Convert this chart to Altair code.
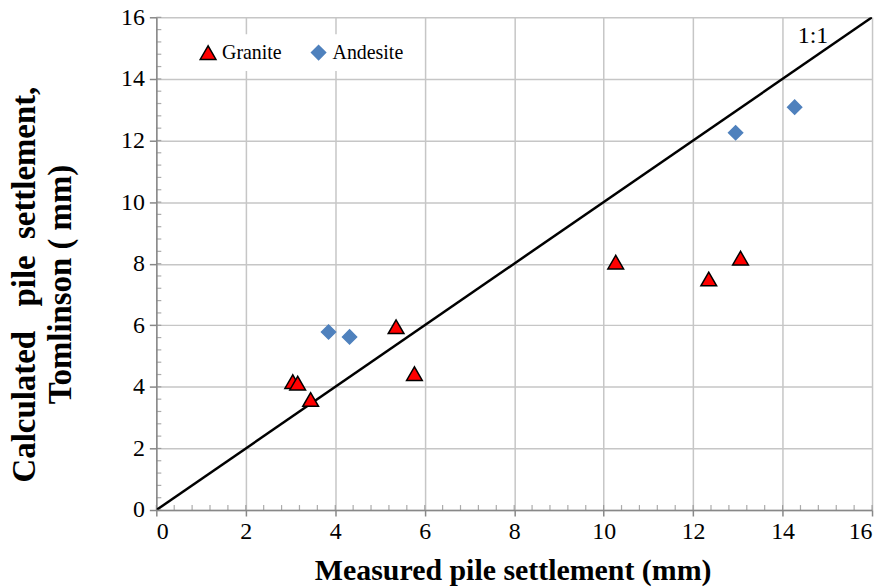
import altair as alt
import pandas as pd

granite_x = [3.05, 3.16, 3.45, 5.36, 5.77, 10.27, 12.35, 13.06]
granite_y = [4.17, 4.12, 3.59, 5.95, 4.43, 8.05, 7.50, 8.18]
andesite_x = [3.85, 4.32, 12.95, 14.27]
andesite_y = [5.78, 5.62, 12.25, 13.08]
line_x = [0, 16]
line_y = [0, 16]
label_text = ["1:1"]
label_x = [14.68]
label_y = [15.4]
major_ticks = [0, 2, 4, 6, 8, 10, 12, 14, 16]
minor_ticks = [round(i * 0.4, 1) for i in range(41)]

FONT = "Liberation Serif"
AXIS_GREY = "#888888"
NB = "\u00a0"
y_title_1 = "Calculated" + NB * 3 + "pile" + NB * 2 + "settlement," + NB * 3
y_title_2 = "Tomlinson ( mm)"

pts = pd.DataFrame({
    "x": granite_x + andesite_x,
    "y": granite_y + andesite_y,
    "rock": ["Granite"] * len(granite_x) + ["Andesite"] * len(andesite_x),
})
line_df = pd.DataFrame({"x": line_x, "y": line_y})
lab_df = pd.DataFrame({"x": label_x, "y": label_y, "t": label_text})
minor_x_df = pd.DataFrame({"x": minor_ticks, "y": [0] * len(minor_ticks)})
minor_y_df = pd.DataFrame({"x": [0] * len(minor_ticks), "y": minor_ticks})

xscale = alt.Scale(domain=[0, 16], nice=False, zero=False)
yscale = alt.Scale(domain=[0, 16], nice=False, zero=False)

xaxis = alt.Axis(orient="bottom", values=major_ticks, grid=True, gridColor="#c6c6c6", gridWidth=1.5,
                 domainColor=AXIS_GREY, domainWidth=1.5, tickColor=AXIS_GREY, tickSize=6, tickWidth=1.5,
                 labelFont=FONT, labelFontSize=24, labelColor="black", labelPadding=4,
                 title="Measured pile settlement (mm)", titleFont=FONT, titleFontSize=30,
                 titleFontWeight="bold", titleColor="black", titleY=70, titleX=358,
                 titleBaseline="alphabetic")
yaxis = alt.Axis(orient="left", values=major_ticks, grid=True, gridColor="#c6c6c6", gridWidth=1.5,
                 domainColor=AXIS_GREY, domainWidth=1.5, tickColor=AXIS_GREY, tickSize=7, tickWidth=1.5,
                 labelFont=FONT, labelFontSize=24, labelColor="black", labelPadding=5,
                 title=[y_title_1, y_title_2], titleFont=FONT,
                 titleFontSize=33, titleFontWeight="bold", titleColor="black",
                 titleX=-122, titleY=268, titleBaseline="alphabetic", titleLineHeight=36,
                 titleAngle=270)

base_line = alt.Chart(line_df).mark_line(color="black", strokeWidth=2.5, clip=True).encode(
    x=alt.X("x:Q", scale=xscale, axis=xaxis),
    y=alt.Y("y:Q", scale=yscale, axis=yaxis),
)

minor_x = alt.Chart(minor_x_df).mark_tick(orient="vertical", size=5, thickness=1.2,
                                           color=AXIS_GREY, yOffset=-2.5).encode(
    x=alt.X("x:Q", scale=xscale), y=alt.Y("y:Q", scale=yscale))
minor_y = alt.Chart(minor_y_df).mark_tick(orient="horizontal", size=5, thickness=1.2,
                                           color=AXIS_GREY, xOffset=2.5).encode(
    x=alt.X("x:Q", scale=xscale), y=alt.Y("y:Q", scale=yscale))

legend = alt.Legend(orient="none", legendX=34, legendY=17, direction="horizontal", title=None,
                    labelFont=FONT, labelFontSize=20, labelColor="black", fillColor="white",
                    padding=8, columnPadding=26, labelOffset=4, symbolSize=190,
                    symbolStrokeWidth=1.5)

points = alt.Chart(pts).mark_point(filled=True, opacity=1, strokeWidth=1.5).encode(
    x=alt.X("x:Q", scale=xscale),
    y=alt.Y("y:Q", scale=yscale),
    shape=alt.Shape("rock:N", scale=alt.Scale(domain=["Granite", "Andesite"],
                                              range=["triangle-up", "diamond"]), legend=legend),
    color=alt.Color("rock:N", scale=alt.Scale(domain=["Granite", "Andesite"],
                                              range=["#ff0000", "#4f81bd"]), legend=legend),
    stroke=alt.Stroke("rock:N", scale=alt.Scale(domain=["Granite", "Andesite"],
                                                range=["black", "#4f81bd"]), legend=legend),
    size=alt.Size("rock:N", scale=alt.Scale(domain=["Granite", "Andesite"],
                                            range=[250, 200]), legend=None),
)

label = alt.Chart(lab_df).mark_text(font=FONT, fontSize=24, color="black", align="center",
                                    baseline="middle").encode(
    x=alt.X("x:Q", scale=xscale), y=alt.Y("y:Q", scale=yscale), text="t:N")

chart = alt.layer(base_line, minor_x, minor_y, points, label).properties(
    width=719, height=495,
    background="white",
    autosize=alt.AutoSizeParams(type="none"),
    padding={"left": 149, "top": 8, "right": 8, "bottom": 76},
).configure_view(stroke=None).configure_axis(labelFont=FONT, titleFont=FONT)

chart.save("out.html", embed_options={"renderer": "svg", "actions": False})
